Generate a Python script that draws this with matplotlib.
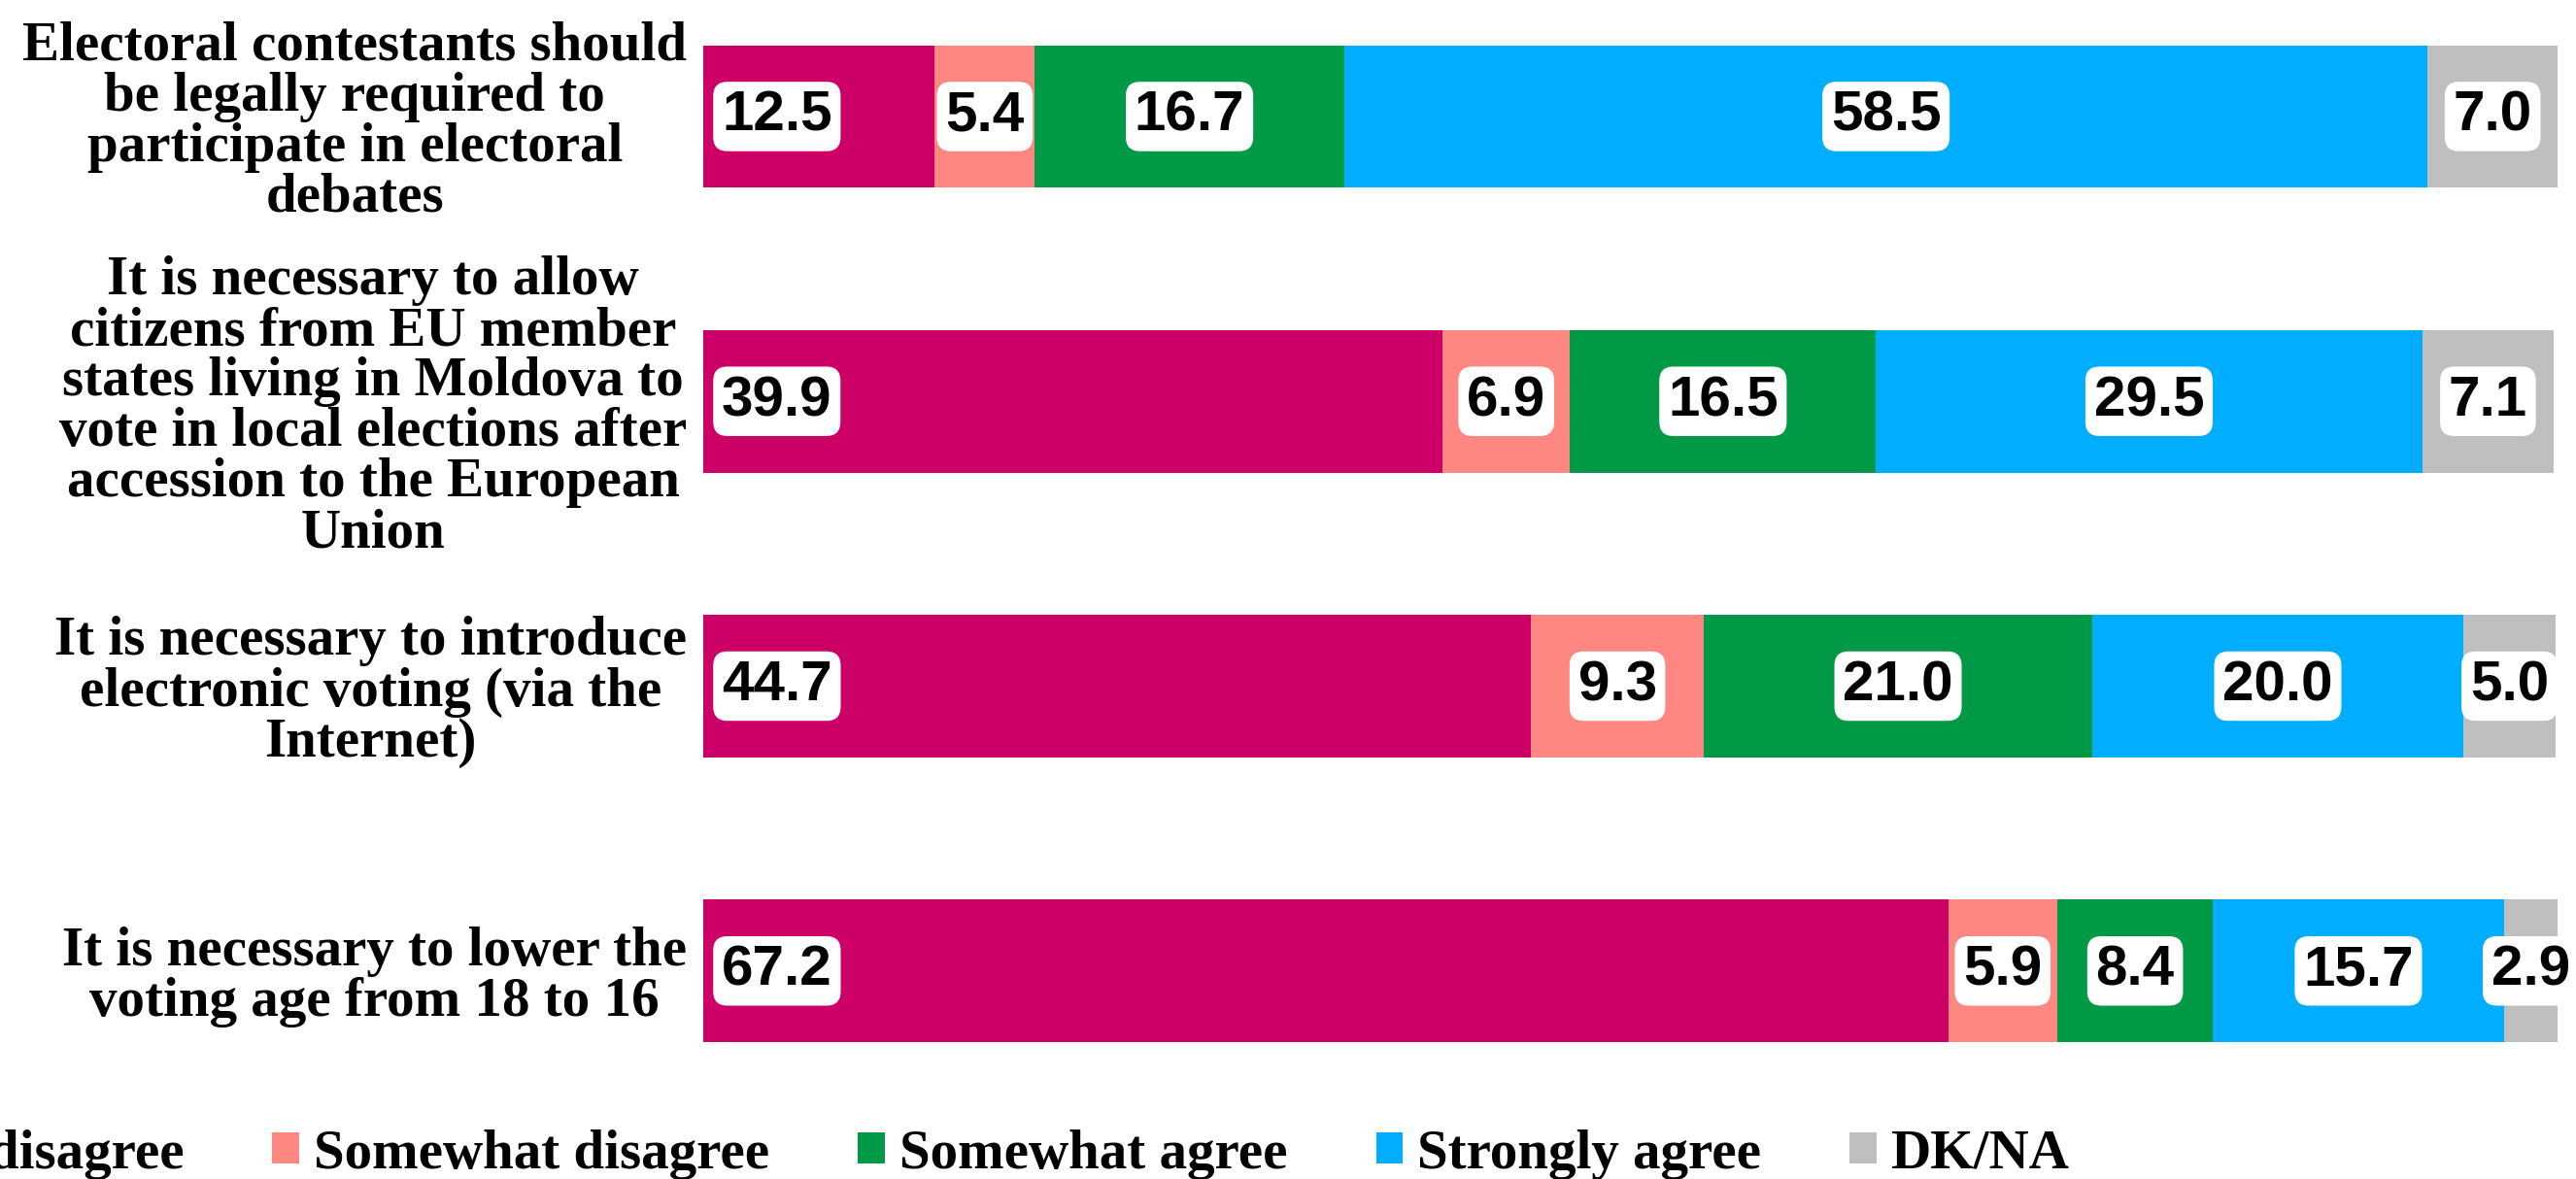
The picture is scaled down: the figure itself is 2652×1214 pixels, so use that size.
import matplotlib.pyplot as plt
import numpy as np

# survey statements (top to bottom)
statements = [
    'Electoral contestants should\nbe legally required to\nparticipate in electoral\ndebates',
    'It is necessary to allow\ncitizens from EU member\nstates living in Moldova to\nvote in local elections after\naccession to the European\nUnion',
    'It is necessary to introduce\nelectronic voting (via the\nInternet)',
    'It is necessary to lower the\nvoting age from 18 to 16',
]

answers = ['Strongly disagree', 'Somewhat disagree', 'Somewhat agree', 'Strongly agree', 'DK/NA']

strongly_disagree = [12.5, 39.9, 44.7, 67.2]
somewhat_disagree = [5.4, 6.9, 9.3, 5.9]
somewhat_agree = [16.7, 16.5, 21.0, 8.4]
strongly_agree = [58.5, 29.5, 20.0, 15.7]
dk_na = [7.0, 7.1, 5.0, 2.9]

colors = ['#CC0066', '#FF8781', '#009A46', '#00ADFF', '#BFBFBF']

series = [strongly_disagree, somewhat_disagree, somewhat_agree, strongly_agree, dk_na]

fig = plt.figure(figsize=(26.52, 12.14), dpi=100)
ax = fig.add_axes([724 / 2652, 94 / 1214, 1 - 724 / 2652, 1120 / 1214])

y = np.arange(len(statements))
left = np.zeros(len(statements))
label_font = dict(fontsize=42, fontweight='bold', family='Liberation Sans', color='black')
box = dict(boxstyle='round,pad=0.15,rounding_size=0.25', facecolor='white', edgecolor='none')

for i, vals in enumerate(series):
    vals = np.array(vals)
    ax.barh(y, vals, left=left, height=0.5, color=colors[i], label=answers[i])
    for j in range(len(y)):
        if i == 0:
            # first segment label sits at the base of the bar
            ax.annotate(f'{vals[j]:.1f}', (left[j], y[j]), xytext=(19, 0),
                        textcoords='offset pixels', ha='left', va='center',
                        bbox=box, **label_font)
        else:
            ax.text(left[j] + vals[j] / 2, y[j], f'{vals[j]:.1f}', ha='center',
                    va='center', bbox=box, clip_on=False, **label_font)
    left = left + vals

ax.set_xlim(0, 101.1)
ax.set_ylim(3.41, -0.409)
ax.set_yticks(y)
ax.set_yticklabels(statements, fontsize=41, fontweight='bold', family='Liberation Serif',
                   multialignment='center', linespacing=1.0)
ax.tick_params(axis='y', length=0, pad=12)
ax.set_xticks([])
for s in ax.spines.values():
    s.set_visible(False)

fig.legend(loc='center', bbox_to_anchor=(0.3495, 0.021), ncol=5, frameon=False,
           prop={'family': 'Liberation Serif', 'weight': 'bold', 'size': 41},
           handlelength=0.49, handleheight=0.49, handletextpad=0.26, columnspacing=1.6)

fig.savefig('out.png', dpi=100)
